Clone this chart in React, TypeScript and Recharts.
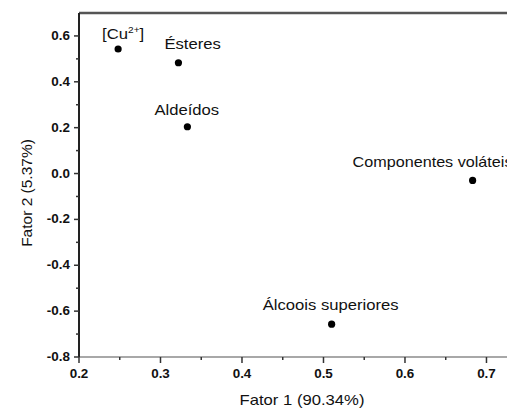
import React from 'react';
import { ScatterChart, Scatter, XAxis, YAxis, ReferenceLine, Label } from 'recharts';

const names = ['[Cu2+]', 'Ésteres', 'Aldeídos', 'Componentes voláteis', 'Álcoois superiores'];
const fator1 = [0.248, 0.322, 0.333, 0.683, 0.510];
const fator2 = [0.543, 0.483, 0.204, -0.030, -0.657];

const xTicks = [0.2, 0.25, 0.3, 0.35, 0.4, 0.45, 0.5, 0.55, 0.6, 0.65, 0.7];
const yTicks = [-0.8, -0.7, -0.6, -0.5, -0.4, -0.3, -0.2, -0.1, 0.0, 0.1, 0.2, 0.3, 0.4, 0.5, 0.6];

const xTitle = 'Fator 1 (90.34%)';
const yTitle = 'Fator 2 (5.37%)';

const data = names.map((n, i) => ({ name: n, x: fator1[i], y: fator2[i] }));

// label placement (render style), relative to the dot: [dx, dy, horizontal scale]
const labelOffset: Record<string, [number, number, number]> = {
  '[Cu2+]': [-16, -10, 1.19],
  'Ésteres': [-14, -14, 1.19],
  'Aldeídos': [-33, -12, 1.19],
  'Componentes voláteis': [-120, -13, 1.155],
  'Álcoois superiores': [-69, -14, 1.19],
};

const FONT = '"Liberation Sans", Arial, Helvetica, sans-serif';
const SX = 1.19;

const isMajorX = (v: number) => Math.abs(v * 10 - Math.round(v * 10)) < 1e-6;
const isMajorY = (v: number) => Math.round(v * 10) % 2 === 0;

const XTick = (props: any) => {
  const { x, y, payload } = props;
  const v = payload.value as number;
  const major = isMajorX(v);
  return (
    <g>
      <line x1={x} x2={x} y1={y} y2={y + (major ? 6 : 3)} stroke="#333" strokeWidth={1.5} />
      {major && (
        <text
          transform={`translate(${x},${y + 21}) scale(1.12,1)`}
          textAnchor="middle"
          fontFamily={FONT}
          fontWeight="bold"
          fontSize={12}
          fill="#111"
        >
          {v.toFixed(1)}
        </text>
      )}
    </g>
  );
};

const YTick = (props: any) => {
  const { x, y, payload } = props;
  const v = payload.value as number;
  const major = isMajorY(v);
  return (
    <g>
      <line x1={x} x2={x - (major ? 5 : 3)} y1={y} y2={y} stroke="#333" strokeWidth={1.5} />
      {major && (
        <text
          transform={`translate(${x - 9},${y + 4}) scale(1.12,1)`}
          textAnchor="end"
          fontFamily={FONT}
          fontWeight="bold"
          fontSize={12}
          fill="#111"
        >
          {v.toFixed(1)}
        </text>
      )}
    </g>
  );
};

const PointShape = (props: any) => {
  const { cx, cy, payload } = props;
  const name = payload.name as string;
  const [dx, dy, sx] = labelOffset[name] || [0, -10, SX];
  const isCu = name === '[Cu2+]';
  return (
    <g>
      <circle cx={cx} cy={cy} r={3.6} fill="#000" />
      <text
        transform={`translate(${cx + dx},${cy + dy}) scale(${sx},1)`}
        textAnchor="start"
        fontFamily={FONT}
        fontSize={14}
        fill="#111"
      >
        {isCu ? (
          <>
            [Cu
            <tspan dy={-6} fontSize={8.5}>2+</tspan>
            <tspan dy={6} fontSize={14}>]</tspan>
          </>
        ) : (
          name
        )}
      </text>
    </g>
  );
};

export default function App() {
  return (
    <ScatterChart width={507} height={402} margin={{ top: 5, right: 0, bottom: 0, left: 0 }}>
      <XAxis
        type="number"
        dataKey="x"
        domain={[0.2, 0.735]}
        ticks={xTicks}
        interval={0}
        allowDataOverflow
        height={53}
        tickSize={0}
        tickMargin={0}
        tickLine={false}
        axisLine={{ stroke: '#a8a8a8', strokeWidth: 2 }}
        tick={<XTick />}
        label={
          <Label
            content={(p: any) => {
              const vb = p.viewBox || { x: 71, y: 349, width: 436 };
              return (
                <text
                  transform={`translate(${vb.x + vb.width / 2 + 5},${vb.y + 48}) scale(${SX},1)`}
                  textAnchor="middle"
                  fontFamily={FONT}
                  fontSize={14}
                  fill="#111"
                >
                  {xTitle}
                </text>
              );
            }}
          />
        }
      />
      <YAxis
        type="number"
        dataKey="y"
        domain={[-0.8, 0.7]}
        ticks={yTicks}
        interval={0}
        allowDataOverflow
        width={71}
        tickSize={0}
        tickMargin={0}
        tickLine={false}
        axisLine={{ stroke: '#222', strokeWidth: 2 }}
        tick={<YTick />}
        label={
          <Label
            content={(p: any) => {
              const vb = p.viewBox || { x: 0, y: 5, height: 344 };
              return (
                <text
                  transform={`translate(24,${vb.y + vb.height / 2 + 8}) rotate(-90)`}
                  textAnchor="middle"
                  fontFamily={FONT}
                  fontSize={15.5}
                  fill="#111"
                >
                  {yTitle}
                </text>
              );
            }}
          />
        }
      />
      <ReferenceLine y={0.7} stroke="#555" strokeWidth={2.5} />
      <Scatter data={data} isAnimationActive={false} shape={<PointShape />} />
    </ScatterChart>
  );
}
